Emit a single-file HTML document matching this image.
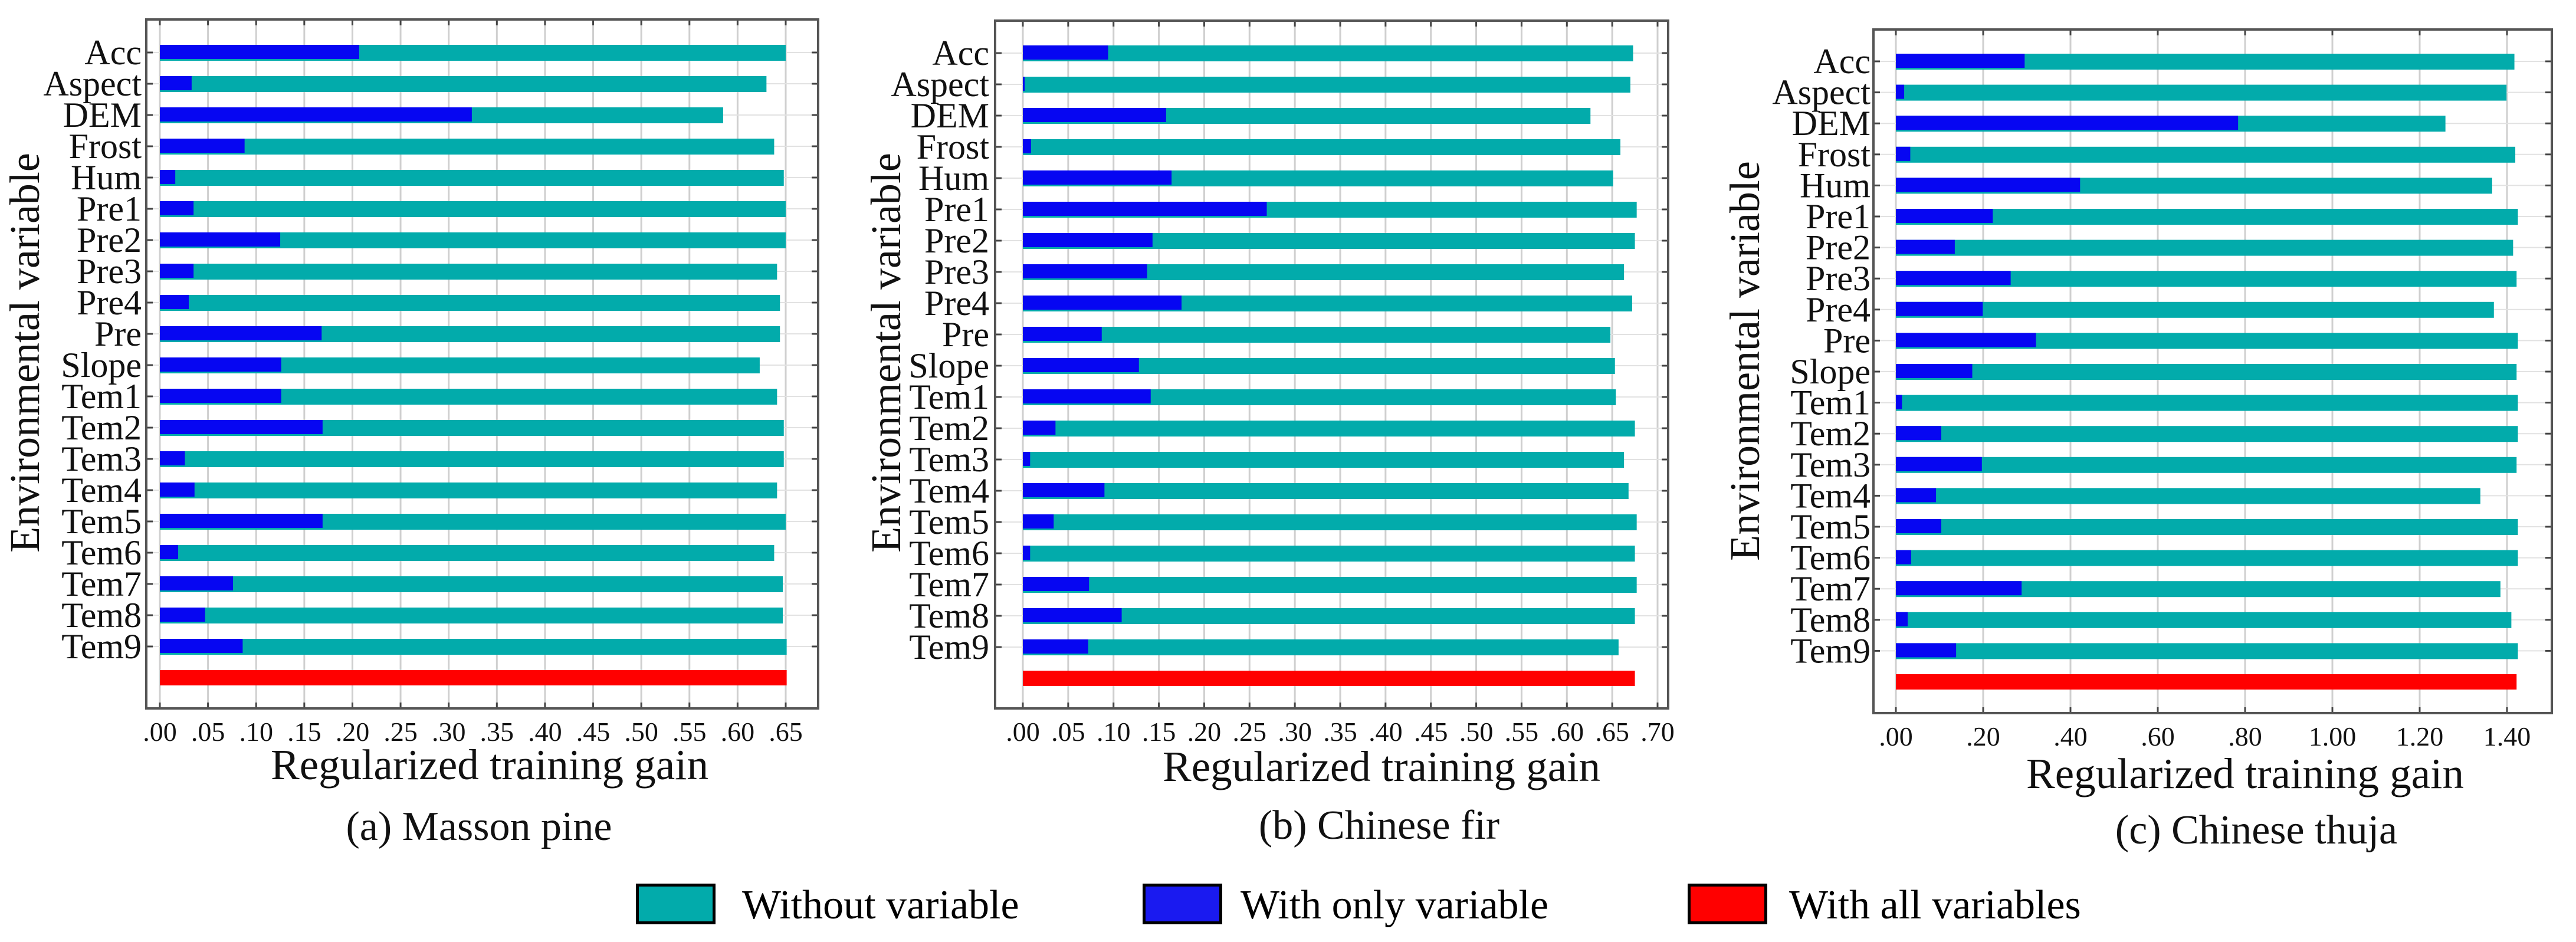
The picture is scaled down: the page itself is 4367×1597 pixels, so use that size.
<!DOCTYPE html>
<html>
<head>
<meta charset="utf-8">
<style>
  html, body { margin: 0; padding: 0; background: #ffffff; }
  body { width: 4367px; height: 1597px; overflow: hidden; }
  svg { display: block; }
  text { font-family: "Liberation Serif", "DejaVu Serif", serif; }
</style>
</head>
<body>
<svg id="fig" xmlns="http://www.w3.org/2000/svg" width="4367" height="1597" viewBox="0 0 4367 1597" font-family="Liberation Serif, serif">
  <g id="panels"></g>
  <g id="legend">
    <rect x="1080.5" y="1500.5" width="130" height="64" fill="#02abab" stroke="#000" stroke-width="5"/>
    <text x="1258" y="1557" font-size="70" font-family="Liberation Serif, serif">Without variable</text>
    <rect x="1939.5" y="1500.5" width="130" height="64" fill="#1a1af0" stroke="#000" stroke-width="5"/>
    <text x="2103" y="1557" font-size="70" font-family="Liberation Serif, serif">With only variable</text>
    <rect x="2863.5" y="1500.5" width="130" height="64" fill="#ff0000" stroke="#000" stroke-width="5"/>
    <text x="3033" y="1557" font-size="70" font-family="Liberation Serif, serif">With all variables</text>
  </g>
</svg>
<script>
const categories = ["Acc","Aspect","DEM","Frost","Hum","Pre1","Pre2","Pre3","Pre4","Pre","Slope","Tem1","Tem2","Tem3","Tem4","Tem5","Tem6","Tem7","Tem8","Tem9"];

// (a) Masson pine
const masonWithout = [0.650,0.630,0.585,0.638,0.648,0.650,0.650,0.641,0.644,0.644,0.623,0.641,0.648,0.648,0.641,0.650,0.638,0.647,0.647,0.651];
const masonOnly    = [0.207,0.033,0.324,0.088,0.016,0.035,0.125,0.035,0.030,0.168,0.126,0.126,0.169,0.026,0.036,0.169,0.019,0.076,0.047,0.086];
const masonAll = 0.651;
const masonTicks = [0,0.05,0.10,0.15,0.20,0.25,0.30,0.35,0.40,0.45,0.50,0.55,0.60,0.65];
const masonTickLabels = [".00",".05",".10",".15",".20",".25",".30",".35",".40",".45",".50",".55",".60",".65"];

// (b) Chinese fir
const firWithout = [0.673,0.670,0.626,0.659,0.651,0.677,0.675,0.663,0.672,0.648,0.653,0.654,0.675,0.663,0.668,0.677,0.675,0.677,0.675,0.657];
const firOnly    = [0.094,0.002,0.158,0.009,0.164,0.269,0.143,0.137,0.175,0.087,0.128,0.141,0.036,0.008,0.090,0.034,0.008,0.073,0.109,0.072];
const firAll = 0.675;
const firTicks = [0,0.05,0.10,0.15,0.20,0.25,0.30,0.35,0.40,0.45,0.50,0.55,0.60,0.65,0.70];
const firTickLabels = [".00",".05",".10",".15",".20",".25",".30",".35",".40",".45",".50",".55",".60",".65",".70"];

// (c) Chinese thuja
const thujaWithout = [1.417,1.399,1.259,1.419,1.366,1.425,1.414,1.422,1.370,1.425,1.422,1.425,1.425,1.422,1.339,1.425,1.425,1.385,1.410,1.425];
const thujaOnly    = [0.295,0.019,0.784,0.033,0.422,0.222,0.135,0.263,0.199,0.321,0.175,0.014,0.104,0.197,0.092,0.104,0.035,0.288,0.027,0.138];
const thujaAll = 1.422;
const thujaTicks = [0,0.2,0.4,0.6,0.8,1.0,1.2,1.4];
const thujaTickLabels = [".00",".20",".40",".60",".80","1.00","1.20","1.40"];

const NS = "http://www.w3.org/2000/svg";
const FONT = "Liberation Serif, DejaVu Serif, serif";
function mk(tag, attrs, parent) {
  const e = document.createElementNS(NS, tag);
  for (const k in attrs) e.setAttribute(k, attrs[k]);
  if (tag === "text") e.setAttribute("font-family", FONT);
  parent.appendChild(e);
  return e;
}

const panels = [
  { key:"masson-pine", caption:"(a) Masson pine", without:masonWithout, only:masonOnly, all:masonAll, ticks:masonTicks, tickLabels:masonTickLabels,
    L:248, T:33, R:1387, B:1201, x0:271, xmax:0.65, xEnd:1332, y0:89, dy:53, labRight:240, ytX:66, ytY:598,
    xtX:830, xtY:1321, tlY:1256, capX:812, capY:1424 },
  { key:"chinese-fir", caption:"(b) Chinese fir", without:firWithout, only:firOnly, all:firAll, ticks:firTicks, tickLabels:firTickLabels,
    L:1687, T:35, R:2828, B:1201, x0:1734, xmax:0.70, xEnd:2810, y0:90, dy:53, labRight:1677, ytX:1526, ytY:598,
    xtX:2342, xtY:1324, tlY:1256, capX:2338, capY:1422 },
  { key:"chinese-thuja", caption:"(c) Chinese thuja", without:thujaWithout, only:thujaOnly, all:thujaAll, ticks:thujaTicks, tickLabels:thujaTickLabels,
    L:3176, T:50, R:4326, B:1209, x0:3214, xmax:1.40, xEnd:4250, y0:104, dy:52.6, labRight:3171, ytX:2982, ytY:612,
    xtX:3806, xtY:1336, tlY:1264, capX:3825, capY:1430 }
];

const root = document.getElementById("panels");
panels.forEach(p => {
  const g = mk("g", {}, root);
  
  
  const xs = v => p.x0 + (v / p.xmax) * (p.xEnd - p.x0);
  const ys = i => p.y0 + i * p.dy;

  const bg = mk("rect", {x:p.L, y:p.T, width:p.R-p.L, height:p.B-p.T, fill:"#ffffff"}, g);
  
  

  p.ticks.forEach((t, i) => {
    const x = xs(t);
    const gl = mk("line", {x1:x, x2:x, y1:p.T, y2:p.B, stroke:"#cfcfcf", "stroke-width":3}, g);
    
    
    mk("line", {x1:x, x2:x, y1:p.T, y2:p.T+10, stroke:"#444", "stroke-width":3}, g);
    mk("line", {x1:x, x2:x, y1:p.B-10, y2:p.B, stroke:"#444", "stroke-width":3}, g);
    const tl = mk("text", {x:x, y:p.tlY, "font-size":46, "text-anchor":"middle", fill:"#111"}, g);
    tl.textContent = p.tickLabels[i];
    
    
  });

  categories.forEach((c, i) => {
    const y = ys(i);
    const hl = mk("line", {x1:p.L, x2:p.R, y1:y, y2:y, stroke:"#e2e2e2", "stroke-width":2}, g);
    
    
    mk("line", {x1:p.L, x2:p.L+11, y1:y, y2:y, stroke:"#444", "stroke-width":3}, g);
    mk("line", {x1:p.R-11, x2:p.R, y1:y, y2:y, stroke:"#444", "stroke-width":3}, g);
    const lab = mk("text", {x:p.labRight, y:y+20, "font-size":60, "text-anchor":"end", fill:"#111"}, g);
    lab.textContent = c;
    
    
  });

  categories.forEach((c, i) => {
    const y = ys(i);
    const tb = mk("rect", {x:xs(0), y:y-13, width:xs(p.without[i])-xs(0), height:27, fill:"#02abab"}, g);
    
    
    const bb = mk("rect", {x:xs(0), y:y-13, width:xs(p.only[i])-xs(0), height:24, fill:"#0606f2"}, g);
    
    
  });
  const yAll = ys(categories.length);
  const rb = mk("rect", {x:xs(0), y:yAll-13, width:xs(p.all)-xs(0), height:26, fill:"#ff0000"}, g);
  
  

  const fr = mk("rect", {x:p.L, y:p.T, width:p.R-p.L, height:p.B-p.T, fill:"none", stroke:"#555", "stroke-width":4}, g);
  
  

  const yt = mk("text", {x:p.ytX, y:p.ytY, "font-size":72, "text-anchor":"middle", transform:"rotate(-90 " + p.ytX + " " + p.ytY + ")", fill:"#111"}, g);
  yt.textContent = "Environmental variable";
  
  
  const xt = mk("text", {x:p.xtX, y:p.xtY, "font-size":73, "text-anchor":"middle", fill:"#111"}, g);
  xt.textContent = "Regularized training gain";
  
  
  const cap = mk("text", {x:p.capX, y:p.capY, "font-size":70, "text-anchor":"middle", fill:"#111"}, g);
  cap.textContent = p.caption;
  
  
});
</script>
</body>
</html>
